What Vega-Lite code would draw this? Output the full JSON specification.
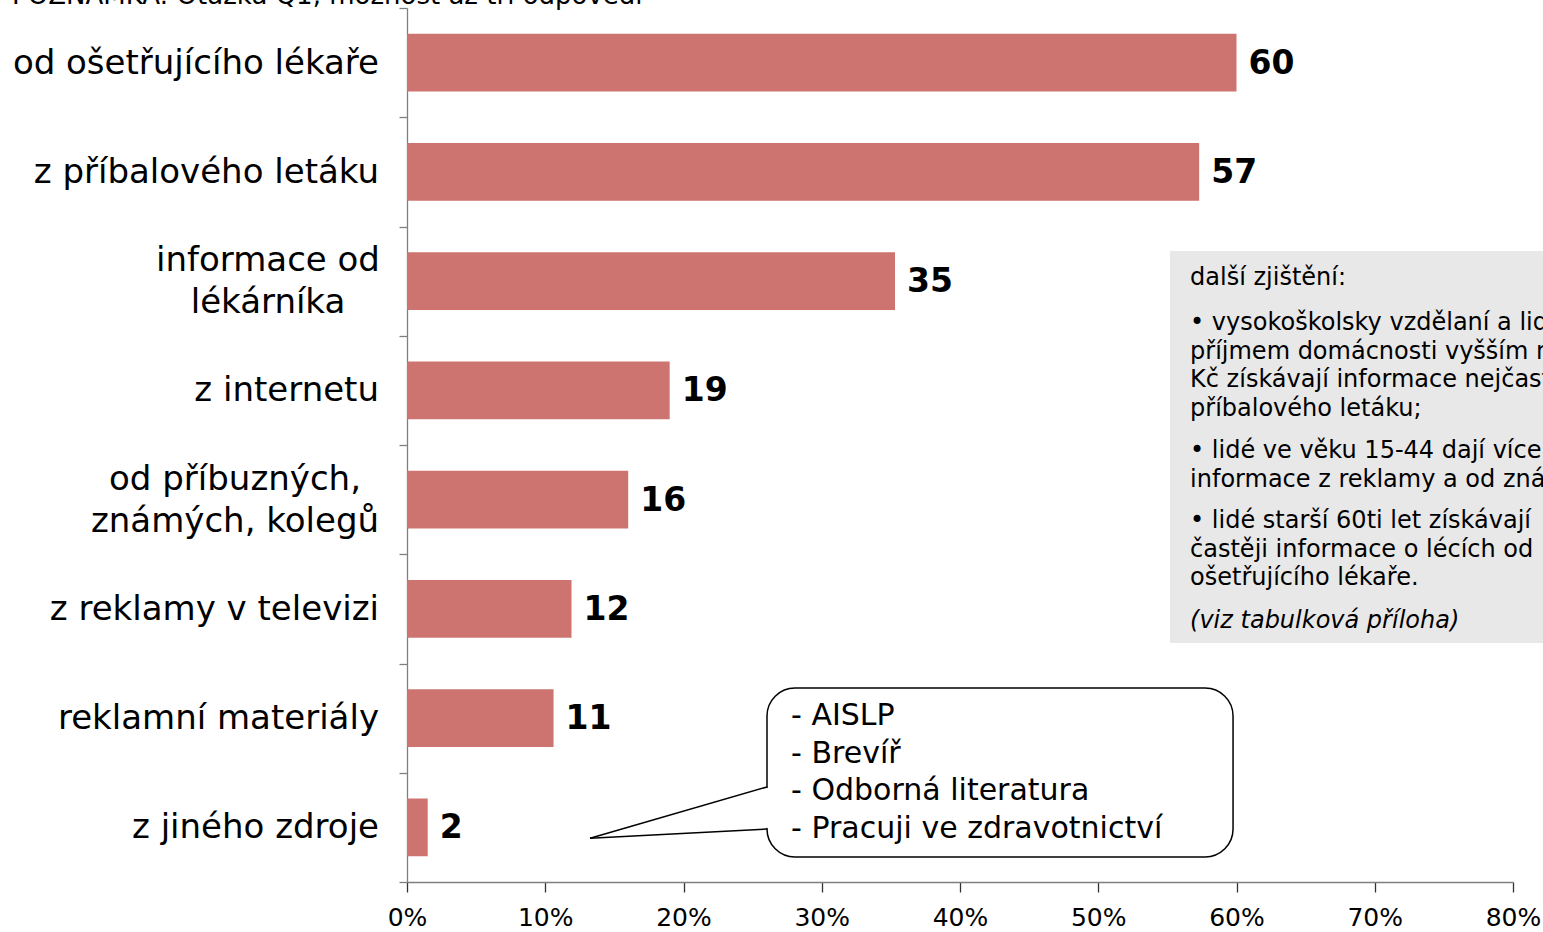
{
  "$schema": "https://vega.github.io/schema/vega-lite/v6.json",
  "width": 1106,
  "height": 874,
  "autosize": {"type": "none"},
  "padding": {"left": 407, "top": 8, "right": 30, "bottom": 50},
  "background": "white",
  "config": {"view": {"stroke": null}, "font": "DejaVu Sans"},
  "datasets": {
    "bars": [
      {"cat": "od ošetřujícího lékaře", "pct": 60.0, "label": "60"},
      {"cat": "z příbalového letáku", "pct": 57.3, "label": "57"},
      {"cat": "informace od|lékárníka", "pct": 35.3, "label": "35"},
      {"cat": "z internetu", "pct": 19.0, "label": "19"},
      {"cat": "od příbuzných,|známých, kolegů", "pct": 16.0, "label": "16"},
      {"cat": "z reklamy v televizi", "pct": 11.9, "label": "12"},
      {"cat": "reklamní materiály", "pct": 10.6, "label": "11"},
      {"cat": "z jiného zdroje", "pct": 1.5, "label": "2"}
    ],
    "one": [{}]
  },
  "resolve": {"scale": {"y": "independent"}},
  "layer": [
    {
      "data": {"name": "bars"},
      "mark": {"type": "bar", "color": "#CD7470", "height": {"band": 0.53}},
      "encoding": {
        "y": {
          "field": "cat",
          "type": "nominal",
          "sort": null,
          "scale": {"paddingInner": 0, "paddingOuter": 0},
          "axis": {
            "title": null,
            "orient": "left",
            "labels": false,
            "tickBand": "extent",
            "tickSize": 8,
            "tickColor": "#7f7f7f",
            "tickWidth": 1.3,
            "domainColor": "#7f7f7f",
            "domainWidth": 1.3
          }
        },
        "x": {
          "field": "pct",
          "type": "quantitative",
          "scale": {"domain": [0, 80], "nice": false, "zero": true},
          "axis": {
            "title": null,
            "orient": "bottom",
            "values": [0, 10, 20, 30, 40, 50, 60, 70, 80],
            "labelExpr": "datum.value + '%'",
            "labelFont": "DejaVu Sans",
            "labelFontSize": 25,
            "labelColor": "#000000",
            "labelPadding": 13,
            "labelOverlap": false,
            "labelFlush": false,
            "grid": false,
            "tickSize": 10,
            "tickColor": "#333333",
            "tickWidth": 1.3,
            "domainColor": "#7f7f7f",
            "domainWidth": 1.3
          }
        }
      }
    },
    {
      "data": {"name": "bars"},
      "mark": {
        "type": "text",
        "baseline": "middle",
        "font": "DejaVu Sans",
        "fontSize": 34,
        "lineHeight": 42,
        "color": "#000000",
        "text": {"expr": "split(datum.cat, '|')"},
        "align": {"expr": "indexof(datum.cat, '|') >= 0 ? 'center' : 'right'"},
        "dx": {"expr": "datum.cat == 'informace od|lékárníka' ? -139 : (datum.cat == 'od příbuzných,|známých, kolegů' ? -172 : -28)"},
        "dy": {"expr": "indexof(datum.cat, '|') >= 0 ? -20 : 1"}
      },
      "encoding": {
        "y": {"field": "cat", "type": "nominal", "sort": null, "scale": {"paddingInner": 0, "paddingOuter": 0}, "axis": null},
        "x": {"datum": 0, "type": "quantitative", "scale": {"domain": [0, 80], "nice": false, "zero": true}}
      }
    },
    {
      "data": {"name": "bars"},
      "mark": {"type": "text", "align": "left", "baseline": "middle", "dx": 12, "dy": 1, "font": "DejaVu Sans", "fontSize": 33, "fontWeight": "bold", "color": "#000000"},
      "encoding": {
        "y": {"field": "cat", "type": "nominal", "sort": null, "scale": {"paddingInner": 0, "paddingOuter": 0}, "axis": null},
        "x": {"field": "pct", "type": "quantitative", "scale": {"domain": [0, 80], "nice": false, "zero": true}},
        "text": {"field": "label"}
      }
    },
    {
      "data": {"name": "one"},
      "mark": {"type": "rect", "color": "#E8E8E8"},
      "encoding": {
        "x": {"datum": 55.19, "type": "quantitative", "scale": {"domain": [0, 80], "nice": false}},
        "x2": {"datum": 85},
        "y": {"datum": 2.224, "type": "quantitative", "scale": {"domain": [0, 8], "nice": false, "zero": false, "reverse": true}, "axis": null},
        "y2": {"datum": 5.812}
      }
    },
    {
      "data": {"name": "one"},
      "mark": {"type": "text", "align": "left", "baseline": "alphabetic", "font": "DejaVu Sans", "fontSize": 24, "color": "#000000", "text": "další zjištění:"},
      "encoding": {
        "x": {"datum": 56.64, "type": "quantitative", "scale": {"domain": [0, 80], "nice": false}},
        "y": {"datum": 2.535, "type": "quantitative", "scale": {"domain": [0, 8], "nice": false, "zero": false, "reverse": true}, "axis": null}
      }
    },
    {
      "data": {"name": "one"},
      "mark": {"type": "text", "align": "left", "baseline": "alphabetic", "font": "DejaVu Sans", "fontSize": 24, "lineHeight": 28.7, "color": "#000000", "text": ["• vysokoškolsky vzdělaní a lidé s", "příjmem domácnosti vyšším než", "Kč získávají informace nejčastěji z", "příbalového letáku;"]},
      "encoding": {
        "x": {"datum": 56.64, "type": "quantitative", "scale": {"domain": [0, 80], "nice": false}},
        "y": {"datum": 2.947, "type": "quantitative", "scale": {"domain": [0, 8], "nice": false, "zero": false, "reverse": true}, "axis": null}
      }
    },
    {
      "data": {"name": "one"},
      "mark": {"type": "text", "align": "left", "baseline": "alphabetic", "font": "DejaVu Sans", "fontSize": 24, "lineHeight": 28.7, "color": "#000000", "text": ["• lidé ve věku 15-44 dají více na", "informace z reklamy a od známých;"]},
      "encoding": {
        "x": {"datum": 56.64, "type": "quantitative", "scale": {"domain": [0, 80], "nice": false}},
        "y": {"datum": 4.119, "type": "quantitative", "scale": {"domain": [0, 8], "nice": false, "zero": false, "reverse": true}, "axis": null}
      }
    },
    {
      "data": {"name": "one"},
      "mark": {"type": "text", "align": "left", "baseline": "alphabetic", "font": "DejaVu Sans", "fontSize": 24, "lineHeight": 28.7, "color": "#000000", "text": ["• lidé starší 60ti let získávají", "častěji informace o lécích od", "ošetřujícího lékaře."]},
      "encoding": {
        "x": {"datum": 56.64, "type": "quantitative", "scale": {"domain": [0, 80], "nice": false}},
        "y": {"datum": 4.76, "type": "quantitative", "scale": {"domain": [0, 8], "nice": false, "zero": false, "reverse": true}, "axis": null}
      }
    },
    {
      "data": {"name": "one"},
      "mark": {"type": "text", "align": "left", "baseline": "alphabetic", "font": "DejaVu Sans", "fontSize": 24, "fontStyle": "italic", "color": "#000000", "text": "(viz tabulková příloha)"},
      "encoding": {
        "x": {"datum": 56.64, "type": "quantitative", "scale": {"domain": [0, 80], "nice": false}},
        "y": {"datum": 5.675, "type": "quantitative", "scale": {"domain": [0, 8], "nice": false, "zero": false, "reverse": true}, "axis": null}
      }
    },
    {
      "data": {"name": "one"},
      "mark": {"type": "rect", "fill": "#ffffff", "stroke": "#000000", "strokeWidth": 1.5, "cornerRadius": 28},
      "encoding": {
        "x": {"datum": 26.04, "type": "quantitative", "scale": {"domain": [0, 80], "nice": false}},
        "x2": {"datum": 59.75},
        "y": {"datum": 6.224, "type": "quantitative", "scale": {"domain": [0, 8], "nice": false, "zero": false, "reverse": true}, "axis": null},
        "y2": {"datum": 7.771}
      }
    },
    {
      "data": {"name": "one"},
      "mark": {"type": "rule", "color": "#ffffff", "strokeWidth": 4},
      "encoding": {
        "x": {"datum": 26.04, "type": "quantitative", "scale": {"domain": [0, 80], "nice": false}},
        "y": {"datum": 7.14, "type": "quantitative", "scale": {"domain": [0, 8], "nice": false, "zero": false, "reverse": true}, "axis": null},
        "y2": {"datum": 7.505}
      }
    },
    {
      "data": {"name": "one"},
      "mark": {"type": "rule", "color": "#000000", "strokeWidth": 1.5},
      "encoding": {
        "x": {"datum": 26.04, "type": "quantitative", "scale": {"domain": [0, 80], "nice": false}},
        "x2": {"datum": 13.24},
        "y": {"datum": 7.13, "type": "quantitative", "scale": {"domain": [0, 8], "nice": false, "zero": false, "reverse": true}, "axis": null},
        "y2": {"datum": 7.6}
      }
    },
    {
      "data": {"name": "one"},
      "mark": {"type": "rule", "color": "#000000", "strokeWidth": 1.5},
      "encoding": {
        "x": {"datum": 13.24, "type": "quantitative", "scale": {"domain": [0, 80], "nice": false}},
        "x2": {"datum": 26.04},
        "y": {"datum": 7.6, "type": "quantitative", "scale": {"domain": [0, 8], "nice": false, "zero": false, "reverse": true}, "axis": null},
        "y2": {"datum": 7.515}
      }
    },
    {
      "data": {"name": "one"},
      "mark": {"type": "text", "align": "left", "baseline": "alphabetic", "font": "DejaVu Sans", "fontSize": 30, "lineHeight": 37.5, "color": "#000000", "text": ["- AISLP", "- Brevíř", "- Odborná literatura", "- Pracuji ve zdravotnictví"]},
      "encoding": {
        "x": {"datum": 27.78, "type": "quantitative", "scale": {"domain": [0, 80], "nice": false}},
        "y": {"datum": 6.563, "type": "quantitative", "scale": {"domain": [0, 8], "nice": false, "zero": false, "reverse": true}, "axis": null}
      }
    },
    {
      "data": {"name": "one"},
      "mark": {"type": "text", "align": "left", "baseline": "alphabetic", "font": "DejaVu Sans", "fontSize": 26, "color": "#000000", "text": "POZNÁMKA: Otázka Q1, možnost až tři odpovědi"},
      "encoding": {
        "x": {"datum": -28.57, "type": "quantitative", "scale": {"domain": [0, 80], "nice": false}},
        "y": {"datum": -0.037, "type": "quantitative", "scale": {"domain": [0, 8], "nice": false, "zero": false, "reverse": true}, "axis": null}
      }
    }
  ]
}
